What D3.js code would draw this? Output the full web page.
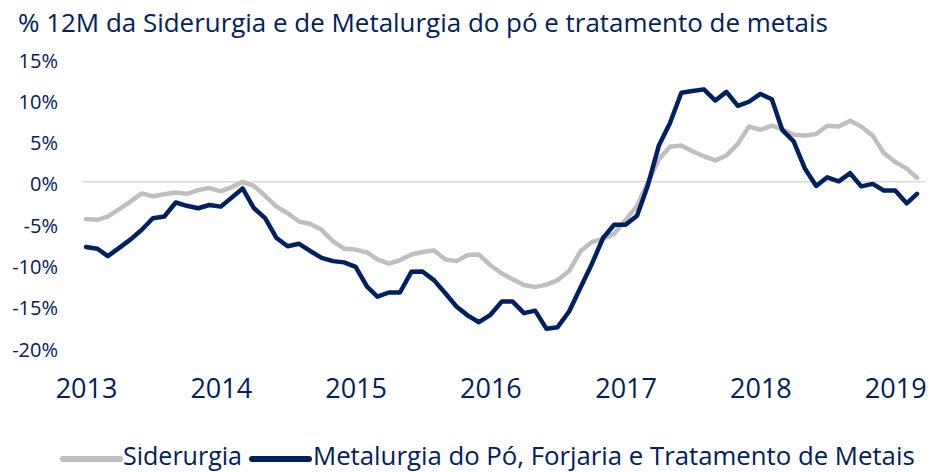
<!DOCTYPE html>
<html>
<head>
<meta charset="utf-8">
<script src="https://cdnjs.cloudflare.com/ajax/libs/d3/7.8.5/d3.min.js"></script>
<style>
	body { margin: 0; background: #ffffff; }
	svg { display: block; }
</style>
</head>
<body>
<script>
	// monthly points, Jan 2013 .. Mar 2019
	var months = d3.timeMonth.range(new Date(2013, 0, 1), new Date(2019, 3, 1));

	var siderurgia = [
		-4.5, -4.6, -4.2, -3.3, -2.4, -1.4, -1.75, -1.5, -1.3, -1.45, -1.0, -0.75,
		-1.15, -0.6, 0.0, -0.5, -1.7, -3.0, -3.8, -4.8, -5.1, -5.8, -7.2, -8.1,
		-8.2, -8.55, -9.4, -9.9, -9.5, -8.8, -8.5, -8.3, -9.4, -9.6, -8.85, -8.8,
		-10.1, -11.1, -11.8, -12.5, -12.75, -12.45, -11.9, -10.8, -8.4, -7.3, -6.9, -6.3,
		-4.6, -2.9, -0.2, 2.7, 4.25, 4.4, 3.7, 3.1, 2.6, 3.2, 4.6, 6.7,
		6.3, 6.8, 6.4, 5.7, 5.6, 5.8, 6.8, 6.7, 7.4, 6.7, 5.6, 3.5,
		2.4, 1.6, 0.5
	];

	var metalurgia = [
		-7.9, -8.1, -9.0, -8.0, -7.0, -5.8, -4.4, -4.2, -2.5, -2.9, -3.2, -2.8,
		-3.0, -1.85, -0.8, -3.2, -4.4, -6.8, -7.8, -7.5, -8.4, -9.2, -9.6, -9.75,
		-10.3, -12.7, -13.9, -13.4, -13.4, -10.9, -10.85, -11.9, -13.5, -15.1, -16.2, -17.0,
		-16.1, -14.5, -14.5, -15.9, -15.6, -17.8, -17.6, -15.7, -12.8, -10.0, -6.8, -5.2,
		-5.2, -4.1, -0.6, 4.4, 7.1, 10.8, 11.0, 11.2, 9.85, 10.9, 9.2, 9.7,
		10.65, 10.0, 6.3, 4.9, 1.65, -0.5, 0.55, 0.05, 1.05, -0.55, -0.25, -1.05,
		-1.05, -2.6, -1.45
	];

	var yTicks = [15, 10, 5, 0, -5, -10, -15, -20];
	var yearLabels = ["2013", "2014", "2015", "2016", "2017", "2018", "2019"];
	var seriesNames = ["Siderurgia", "Metalurgia do Pó, Forjaria e Tratamento de Metais"];
	var title = "% 12M da Siderurgia e de Metalurgia do pó e tratamento de metais";

	function Chart() {
		this.width = 930;
		this.height = 472;
		this.textColor = "#002060";
		this.colors = ["#bfbfbf", "#002060"];
		this.font = "'Open Sans', sans-serif";
		this.svg = undefined;
		this.x = undefined;
		this.y = undefined;
	}

	Chart.prototype.init = function() {
		this.createSVG();
		this.setupScales();
		this.addTitle();
		this.addZeroLine();
		this.addAxes();
		this.addLines();
		this.addLegend();
	};

	Chart.prototype.createSVG = function() {
		this.svg = d3.select("body").append("svg")
			.attr("width", this.width)
			.attr("height", this.height);
	};

	Chart.prototype.setupScales = function() {
		this.x = d3.scaleTime()
			.domain([months[0], months[months.length - 1]])
			.range([86, 917]);
		this.y = d3.scaleLinear()
			.domain([-20, 15])
			.range([347, 58]);
	};

	// shrink/grow font so the text covers the width seen in the picture
	Chart.prototype.fit = function(sel, target) {
		var size = parseFloat(sel.style("font-size"));
		var w = sel.node().getComputedTextLength();
		sel.style("font-size", (size * target / w).toFixed(2) + "px");
	};

	Chart.prototype.addTitle = function() {
		var t = this.svg.append("text")
			.attr("x", 18)
			.attr("y", 32)
				.style("font-family", this.font)
				.style("font-size", "23px")
				.style("fill", this.textColor)
			.text(title);
		this.fit(t, 810);
	};

	Chart.prototype.addZeroLine = function() {
		this.svg.append("line")
			.attr("x1", 82)
			.attr("x2", 925)
			.attr("y1", this.y(0))
			.attr("y2", this.y(0))
				.style("stroke", "#d9d9d9")
				.style("stroke-width", 1.5);
	};

	Chart.prototype.addAxes = function() {
		var yAxis = d3.axisLeft(this.y)
			.tickValues(yTicks)
			.tickSize(0)
			.tickPadding(0)
			.tickFormat(function(d) { return d + "%"; });

		var gy = this.svg.append("g")
			.attr("transform", "translate(58,0)")
			.call(yAxis);
		gy.select(".domain").remove();
		gy.selectAll("text")
			.attr("dy", "0.45em")
				.style("font-family", this.font)
				.style("font-size", "20px")
				.style("fill", this.textColor);

		var yearDates = yearLabels.map(function(d) { return new Date(+d, 0, 1); });
		var xAxis = d3.axisBottom(this.x)
			.tickValues(yearDates)
			.tickSize(0)
			.tickPadding(0)
			.tickFormat(function(d, i) { return yearLabels[i]; });

		var gx = this.svg.append("g")
			.attr("transform", "translate(0,398)")
			.call(xAxis);
		gx.select(".domain").remove();
		gx.selectAll("text")
			.attr("y", 0)
			.attr("dy", 0)
				.style("font-family", this.font)
				.style("font-size", "27px")
				.style("fill", this.textColor);
	};

	Chart.prototype.addLines = function() {
		var self = this;
		var line = d3.line()
			.x(function(d, i) { return self.x(months[i]); })
			.y(function(d) { return self.y(d); });

		[siderurgia, metalurgia].forEach(function(values, k) {
			self.svg.append("path")
				.datum(values)
				.attr("d", line)
					.style("fill", "none")
					.style("stroke", self.colors[k])
					.style("stroke-width", 4.5)
					.style("stroke-linejoin", "round")
					.style("stroke-linecap", "round");
		});
	};

	Chart.prototype.addLegend = function() {
		var self = this;
		var items = [
			{ x1: 63, x2: 120, tx: 123, w: 119 },
			{ x1: 252, x2: 309, tx: 313, w: 602 }
		];
		items.forEach(function(it, k) {
			self.svg.append("line")
				.attr("x1", it.x1)
				.attr("x2", it.x2)
				.attr("y1", 459)
				.attr("y2", 459)
					.style("stroke", self.colors[k])
					.style("stroke-width", 6)
					.style("stroke-linecap", "round");

			var t = self.svg.append("text")
				.attr("x", it.tx)
				.attr("y", 465)
					.style("font-family", self.font)
					.style("font-size", "25px")
					.style("fill", self.textColor)
				.text(seriesNames[k]);
			self.fit(t, it.w);
		});
	};

	var chart = new Chart();
	chart.init();
</script>
</body>
</html>
